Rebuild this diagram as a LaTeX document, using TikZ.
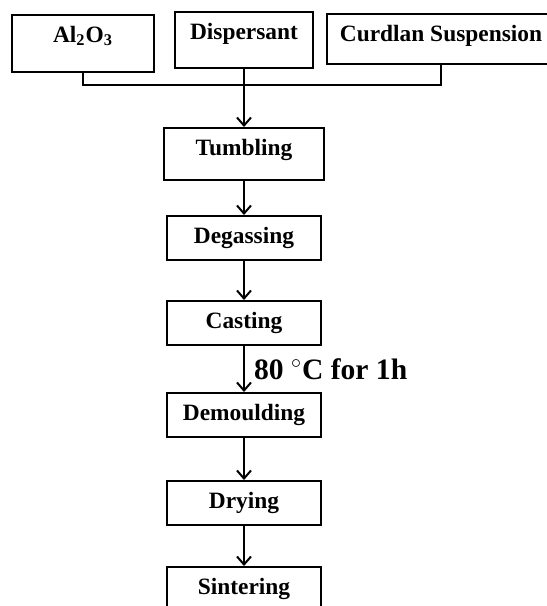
\documentclass[tikz,border=0pt]{standalone}
\usepackage{fontspec}
\setmainfont{Liberation Serif}
\usepackage{tikz}
\usetikzlibrary{arrows.meta}
\tikzstyle{box} = [rectangle,
minimum width=77pt,
inner sep=0pt,
text height=13.5pt,
text depth=8.5pt,
anchor=north,
text centered,
line width=1pt,
draw=black,
font=\fontsize{11.7}{14}\selectfont\bfseries]
\tikzstyle{arrow} = [line width=1pt,-{Straight Barb[length=4pt,width=7pt]}]
\tikzstyle{line} = [line width=1pt]
\begin{document}
\begin{tikzpicture}[x=0.5pt,y=-0.5pt]
\useasboundingbox (0,0) rectangle (547,606);

% Matières premières
\node[box, minimum width=71pt, text depth=15pt] (alumina) at (83,14) {Al\textsubscript{2}O\textsubscript{3}};
\node[box, minimum width=69pt, text depth=14.5pt] (dispersant) at (244,11) {Dispersant};
\node[box, minimum width=114pt, text depth=11.5pt] (curdlan) at (441,13) {Curdlan Suspension};

% Étapes du procédé
\node[box, minimum width=80pt, text depth=12.5pt] (tumbling) at (244,127) {Tumbling};
\node[box] (degassing) at (244,215) {Degassing};
\node[box] (casting) at (244,300) {Casting};
\node[box] (demoulding) at (244,392) {Demoulding};
\node[box] (drying) at (244,480) {Drying};
\node[box] (sintering) at (244,566) {Sintering};

% Liaisons
\coordinate (join) at (244,85);
\draw[line] (alumina.south) |- (join) -| (curdlan.south);
\draw[arrow] (dispersant.south) -- (tumbling.north);
\draw[arrow] (tumbling.south) -- (degassing.north);
\draw[arrow] (degassing.south) -- (casting.north);
\draw[arrow] (casting.south) -- node[right, xshift=4.5pt, inner sep=0pt, font=\fontsize{14.8}{17}\selectfont\bfseries] (cond) {80 $^{\circ}$C for 1h} (demoulding.north);
\draw[arrow] (demoulding.south) -- (drying.north);
\draw[arrow] (drying.south) -- (sintering.north);

\end{tikzpicture}
\end{document}
